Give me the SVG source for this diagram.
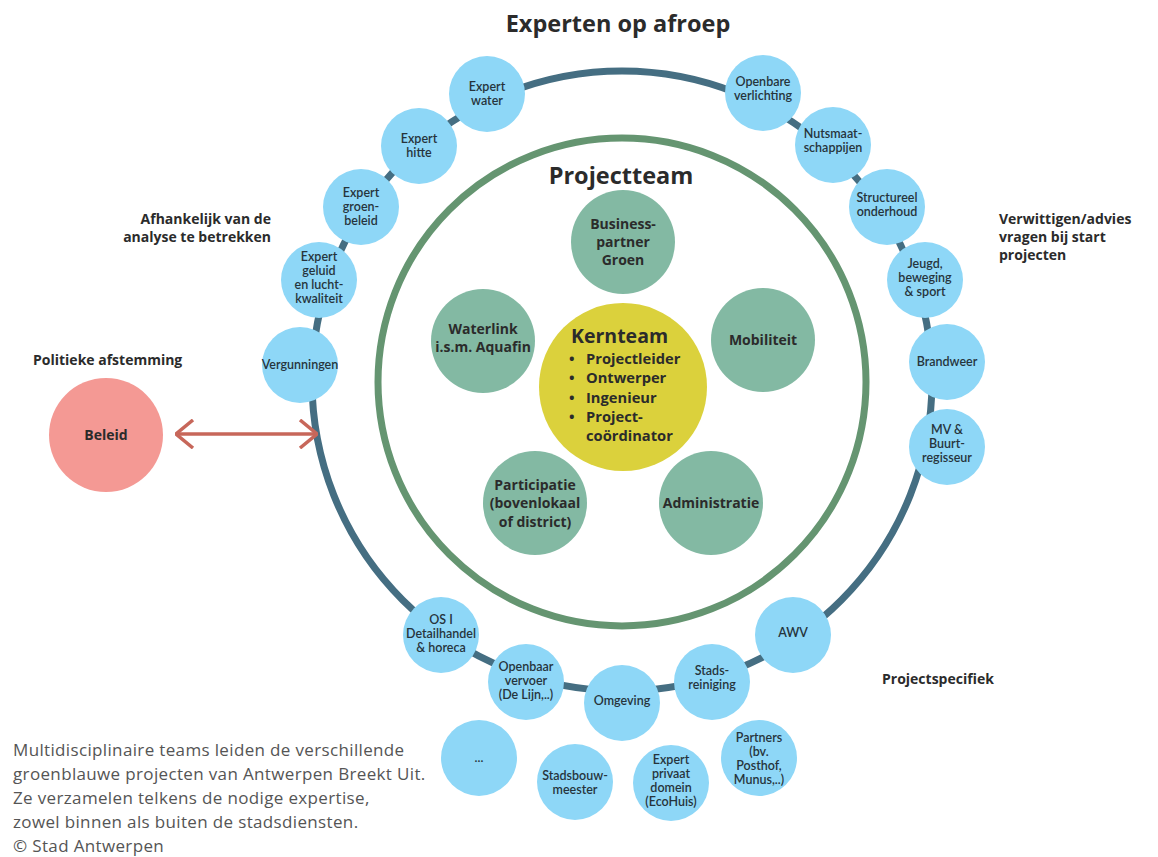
<svg xmlns="http://www.w3.org/2000/svg" width="1158" height="857" viewBox="0 0 1158 857">
<defs>
<style>
text{font-family:"Open Sans","Liberation Sans",sans-serif;fill:#2b2b2b;}
.ttl{font-size:23.5px;font-weight:700;text-anchor:middle;}
.lbl{font-size:14px;font-weight:700;}
.b{fill:#8ed7f7;}
.g{fill:#83b9a3;}
.bt{font-family:Lato,"Open Sans",sans-serif;font-size:12.5px;font-weight:600;text-anchor:middle;fill:#26343c;}
.gt{font-size:14px;font-weight:700;text-anchor:middle;}
.kt{font-size:14.7px;font-weight:700;}
.foot{font-size:17px;font-weight:400;fill:#555;letter-spacing:0.35px;}
</style>
<marker id="chev" viewBox="0 0 20 30" refX="19" refY="15" markerWidth="20" markerHeight="30" markerUnits="userSpaceOnUse" orient="auto-start-reverse">
<path d="M2,1 L19,15 L2,29" fill="none" stroke="#c7675a" stroke-width="3.5"/>
</marker>
</defs>
<rect width="1158" height="857" fill="#fff"/>

<text class="ttl" x="618" y="32">Experten op afroep</text>
<text class="ttl" x="621" y="184">Projectteam</text>

<text class="lbl" x="271" y="224" text-anchor="end">Afhankelijk van de</text>
<text class="lbl" x="271" y="242" text-anchor="end">analyse te betrekken</text>
<text class="lbl" x="33" y="365">Politieke afstemming</text>
<text class="lbl" x="999" y="224">Verwittigen/advies</text>
<text class="lbl" x="999" y="242">vragen bij start</text>
<text class="lbl" x="999" y="260">projecten</text>
<text class="lbl" x="882" y="684">Projectspecifiek</text>

<g id="connectors">
<circle cx="622" cy="381" r="310" fill="none" stroke="#456e82" stroke-width="7"/>
<circle cx="622" cy="382" r="244" fill="none" stroke="#659571" stroke-width="7"/>
<line x1="176" y1="434" x2="317" y2="434" stroke="#c7675a" stroke-width="3.5" marker-start="url(#chev)" marker-end="url(#chev)"/>
</g>

<g id="beleid"><circle cx="106" cy="435" r="57" fill="#f49994"/><text class="gt" x="106" y="440">Beleid</text></g>

<g id="expert-water"><circle class="b" cx="487" cy="94" r="38"/><text class="bt" x="487" y="91">Expert</text><text class="bt" x="487" y="105">water</text></g>
<g id="expert-hitte"><circle class="b" cx="419" cy="146" r="38"/><text class="bt" x="419" y="143">Expert</text><text class="bt" x="419" y="157">hitte</text></g>
<g id="expert-groenbeleid"><circle class="b" cx="361" cy="207" r="38"/><text class="bt" x="361" y="197">Expert</text><text class="bt" x="361" y="211">groen-</text><text class="bt" x="361" y="225">beleid</text></g>
<g id="expert-geluid"><circle class="b" cx="319" cy="280" r="38"/><text class="bt" x="319" y="261">Expert</text><text class="bt" x="319" y="275">geluid</text><text class="bt" x="319" y="289">en lucht-</text><text class="bt" x="319" y="303">kwaliteit</text></g>
<g id="vergunningen"><circle class="b" cx="300" cy="365" r="38"/><text class="bt" x="300" y="369">Vergunningen</text></g>
<g id="openbare-verlichting"><circle class="b" cx="763" cy="93" r="38"/><text class="bt" x="763" y="86">Openbare</text><text class="bt" x="763" y="100">verlichting</text></g>
<g id="nutsmaatschappijen"><circle class="b" cx="833" cy="145" r="38"/><text class="bt" x="833" y="138">Nutsmaat-</text><text class="bt" x="833" y="152">schappijen</text></g>
<g id="structureel-onderhoud"><circle class="b" cx="887" cy="207" r="38"/><text class="bt" x="887" y="202">Structureel</text><text class="bt" x="887" y="216">onderhoud</text></g>
<g id="jeugd"><circle class="b" cx="925" cy="280" r="38"/><text class="bt" x="925" y="268">Jeugd,</text><text class="bt" x="925" y="282">beweging</text><text class="bt" x="925" y="296">&amp; sport</text></g>
<g id="brandweer"><circle class="b" cx="947" cy="362" r="38"/><text class="bt" x="947" y="366">Brandweer</text></g>
<g id="mv-buurtregisseur"><circle class="b" cx="947" cy="447" r="38"/><text class="bt" x="947" y="434">MV &amp;</text><text class="bt" x="947" y="448">Buurt-</text><text class="bt" x="947" y="462">regisseur</text></g>
<g id="awv"><circle class="b" cx="793" cy="635" r="38"/><text class="bt" x="793" y="637">AWV</text></g>
<g id="stadsreiniging"><circle class="b" cx="712" cy="682" r="38"/><text class="bt" x="712" y="675">Stads-</text><text class="bt" x="712" y="689">reiniging</text></g>
<g id="omgeving"><circle class="b" cx="622" cy="703" r="38"/><text class="bt" x="622" y="705">Omgeving</text></g>
<g id="openbaar-vervoer"><circle class="b" cx="526" cy="682" r="38"/><text class="bt" x="526" y="671">Openbaar</text><text class="bt" x="526" y="685">vervoer</text><text class="bt" x="526" y="699">(De Lijn,..)</text></g>
<g id="os-detailhandel"><circle class="b" cx="441" cy="635" r="38"/><text class="bt" x="441" y="624">OS I</text><text class="bt" x="441" y="638">Detailhandel</text><text class="bt" x="441" y="652">&amp; horeca</text></g>
<g id="etc"><circle class="b" cx="479" cy="758" r="38"/><text class="bt" x="479" y="762">...</text></g>
<g id="stadsbouwmeester"><circle class="b" cx="575" cy="782" r="38"/><text class="bt" x="575" y="780">Stadsbouw-</text><text class="bt" x="575" y="794">meester</text></g>
<g id="expert-privaat"><circle class="b" cx="671" cy="783" r="38"/><text class="bt" x="671" y="764">Expert</text><text class="bt" x="671" y="778">privaat</text><text class="bt" x="671" y="792">domein</text><text class="bt" x="671" y="806">(EcoHuis)</text></g>
<g id="partners"><circle class="b" cx="759" cy="758" r="38"/><text class="bt" x="759" y="742">Partners</text><text class="bt" x="759" y="756">(bv.</text><text class="bt" x="759" y="770">Posthof,</text><text class="bt" x="759" y="784">Munus,..)</text></g>

<g id="businesspartner-groen"><circle class="g" cx="623" cy="242" r="52"/><text class="gt" x="623" y="229">Business-</text><text class="gt" x="623" y="247">partner</text><text class="gt" x="623" y="265">Groen</text></g>
<g id="waterlink"><circle class="g" cx="483" cy="341" r="52"/><text class="gt" x="483" y="334">Waterlink</text><text class="gt" x="483" y="352">i.s.m. Aquafin</text></g>
<g id="mobiliteit"><circle class="g" cx="763" cy="340" r="52"/><text class="gt" x="763" y="345">Mobiliteit</text></g>
<g id="participatie"><circle class="g" cx="535" cy="503" r="52"/><text class="gt" x="535" y="490">Participatie</text><text class="gt" x="535" y="508">(bovenlokaal</text><text class="gt" x="535" y="527">of district)</text></g>
<g id="administratie"><circle class="g" cx="711" cy="503" r="52"/><text class="gt" x="711" y="508">Administratie</text></g>

<g id="kernteam"><circle cx="623" cy="387" r="84" fill="#dbd13c"/>
<text x="571" y="343" font-size="19.5" font-weight="700">Kernteam</text>
<text class="kt" x="569" y="364">•</text><text class="kt" x="586" y="364">Projectleider</text>
<text class="kt" x="569" y="383">•</text><text class="kt" x="586" y="383">Ontwerper</text>
<text class="kt" x="569" y="403">•</text><text class="kt" x="586" y="403">Ingenieur</text>
<text class="kt" x="569" y="422">•</text><text class="kt" x="586" y="422">Project-</text>
<text class="kt" x="586" y="441">coördinator</text>
</g>

<g id="footnote">
<text class="foot" x="13" y="756">Multidisciplinaire teams leiden de verschillende</text>
<text class="foot" x="13" y="780">groenblauwe projecten van Antwerpen Breekt Uit.</text>
<text class="foot" x="13" y="804">Ze verzamelen telkens de nodige expertise,</text>
<text class="foot" x="13" y="828">zowel binnen als buiten de stadsdiensten.</text>
<text class="foot" x="13" y="852">© Stad Antwerpen</text>
</g>
</svg>
